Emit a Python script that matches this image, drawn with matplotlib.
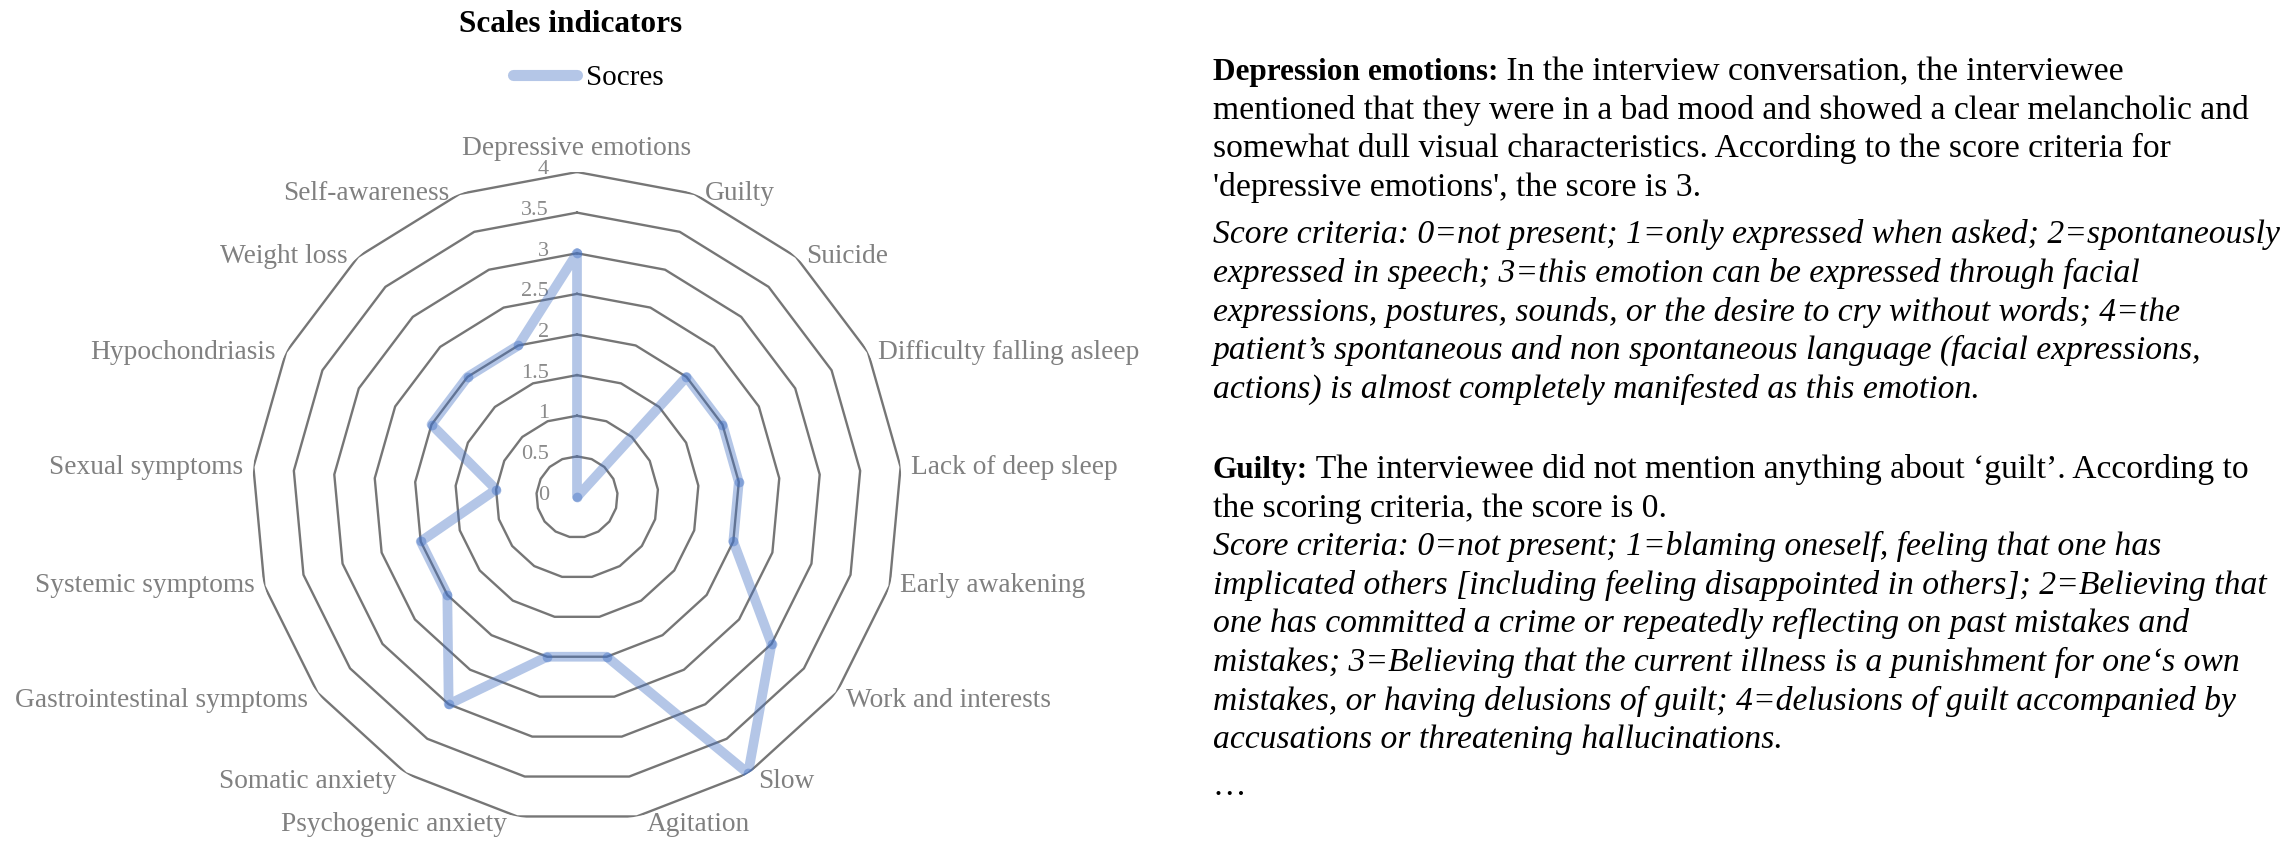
import numpy as np
import matplotlib.pyplot as plt
from matplotlib.lines import Line2D

plt.rcParams['font.family'] = ['Liberation Serif', 'DejaVu Serif']

# radar data
categories = [
    "Depressive emotions", "Guilty", "Suicide", "Difficulty falling asleep",
    "Lack of deep sleep", "Early awakening", "Work and interests", "Slow",
    "Agitation", "Psychogenic anxiety", "Somatic anxiety",
    "Gastrointestinal symptoms", "Systemic symptoms", "Sexual symptoms",
    "Hypochondriasis", "Weight loss", "Self-awareness",
]
scores = [3, 0, 2, 2, 2, 2, 3, 4, 2, 2, 3, 2, 2, 1, 2, 2, 2]
ring_levels = [0.5, 1, 1.5, 2, 2.5, 3, 3.5, 4]
ring_labels = ["0", "0.5", "1", "1.5", "2", "2.5", "3", "3.5", "4"]
series_name = "Socres"
chart_title = "Scales indicators"

# text block on the right: (bold head, body, italic?)
para1 = [
    ("Depression emotions:", " In the interview conversation, the interviewee", False),
    ("", "mentioned that they were in a bad mood and showed a clear melancholic and", False),
    ("", "somewhat dull visual characteristics. According to the score criteria for", False),
    ("", "'depressive emotions', the score is 3.", False),
    ("", "Score criteria: 0=not present; 1=only expressed when asked; 2=spontaneously", True),
    ("", "expressed in speech; 3=this emotion can be expressed through facial", True),
    ("", "expressions, postures, sounds, or the desire to cry without words; 4=the", True),
    ("", "patient\u2019s spontaneous and non spontaneous language (facial expressions,", True),
    ("", "actions) is almost completely manifested as this emotion.", True),
]
para2 = [
    ("Guilty:", " The interviewee did not mention anything about \u2018guilt\u2019. According to", False),
    ("", "the scoring criteria, the score is 0.", False),
    ("", "Score criteria: 0=not present; 1=blaming oneself, feeling that one has", True),
    ("", "implicated others [including feeling disappointed in others]; 2=Believing that", True),
    ("", "one has committed a crime or repeatedly reflecting on past mistakes and", True),
    ("", "mistakes; 3=Believing that the current illness is a punishment for one\u2018s own", True),
    ("", "mistakes, or having delusions of guilt; 4=delusions of guilt accompanied by", True),
    ("", "accusations or threatening hallucinations.", True),
    ("", "\u2026", False),
]

W, H = 2292, 860
fig = plt.figure(figsize=(W / 100, H / 100), dpi=100)

cx, cy, rad = 577, 497, 325
ax = fig.add_axes([(cx - rad) / W, (H - cy - rad) / H, 2 * rad / W, 2 * rad / H],
                  projection='polar')
ax.set_theta_offset(np.pi / 2)
ax.set_theta_direction(-1)
ax.set_ylim(0, 4)
ax.set_xticks([])
ax.set_yticks([])
ax.grid(False)
ax.spines['polar'].set_visible(False)
ax.patch.set_visible(False)

n = len(categories)
theta = np.arange(n) * 2 * np.pi / n
theta_c = np.append(theta, theta[0])

grid_col = '#767676'
for lv in ring_levels:
    ax.plot(theta_c, [lv] * (n + 1), color=grid_col, lw=1.7, zorder=1)

for i, lab in enumerate(ring_labels):
    ax.annotate(lab, xy=(0, i * 0.5), xytext=(-28, 2), textcoords='offset pixels',
                ha='right', va='center', fontsize=16, color='#8a8a8a')

vals = np.append(scores, scores[0])
ax.plot(theta_c, vals, color='#4472C4', alpha=0.4, lw=7,
        solid_joinstyle='round', solid_capstyle='round', zorder=3)
ax.plot(theta, scores, 'o', color='#4472C4', alpha=0.45, ms=7, mec='none', zorder=4)

for t, lab in zip(theta, categories):
    s, c = np.sin(t), np.cos(t)
    if abs(s) < 0.05:
        ha, va, off = 'center', 'bottom', (0, 11)
    else:
        ha = 'left' if s > 0 else 'right'
        va = 'center'
        dy = -8 if c < -0.3 else 0
        off = (10 if s > 0 else -10, dy)
    ax.annotate(lab, xy=(t, 4), xytext=off, textcoords='offset pixels',
                ha=ha, va=va, fontsize=19.7, color='#808080')

fig.text(571 / W, 1 - 24 / H, chart_title, ha='center', va='center',
         fontsize=22.5, weight='bold')
handle = Line2D([], [], color='#4472C4', alpha=0.4, lw=8, solid_capstyle='round')
fig.legend([handle], [series_name], loc='center', bbox_to_anchor=(588 / W, 1 - 78 / H),
           frameon=False, fontsize=21, handlelength=2.2, handletextpad=0.3)

# right text block
x0 = 1213 / W
step = 38.6
fs = 24.2


def draw_lines(lines, y_start, gap_at=None, gap=0):
    y = y_start
    for k, (head, body, ital) in enumerate(lines):
        if k == gap_at:
            y += gap
        yy = 1 - y / H
        if head:
            t = fig.text(x0, yy, head, weight='bold', fontsize=22.5, va='baseline')
            plt.annotate(body, xy=(1, 0), xycoords=t, va='bottom', ha='left',
                         fontsize=fs, annotation_clip=False)
        else:
            fig.text(x0, yy, body, fontsize=fs, va='baseline',
                     style='italic' if ital else 'normal')
        y += step
    return y


draw_lines(para1, 80, gap_at=4, gap=9)
draw_lines(para2, 478, gap_at=8, gap=8)

fig.savefig('out.png', dpi=100)
